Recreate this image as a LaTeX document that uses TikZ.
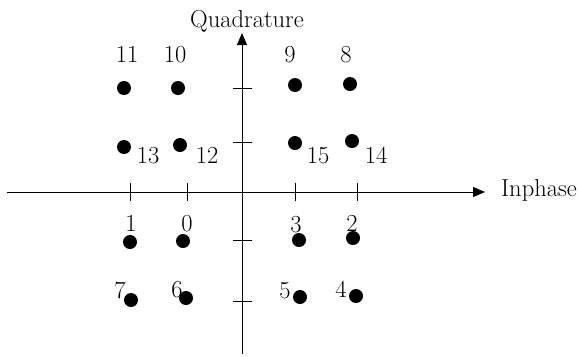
\documentclass[tikz,border=0pt]{standalone}
\usepackage{fontspec}
\usetikzlibrary{arrows.meta}
\begin{document}
\begin{tikzpicture}[x=1bp,y=-1bp,
  dot/.style={circle,fill=black,inner sep=0pt,minimum size=14bp},
  lab/.style={inner sep=0pt,anchor=base,font=\fontsize{24.5bp}{28bp}\selectfont},
  axis/.style={line width=0.9bp,-{Triangle[length=12bp,width=10bp]}},
  tick/.style={line width=0.8bp}]
\useasboundingbox (0,0) rectangle (578,356);
% axes
\coordinate (xs) at (7,192);
\coordinate (xe) at (485,192);
\coordinate (ys) at (242,354);
\coordinate (ye) at (242,33);
\draw[axis] (xs) -- (xe);
\draw[axis] (ys) -- (ye);
\node[lab,anchor=base west] (inph) at (501,196) {Inphase};
\node[lab] (quad) at (247,27) {Quadrature};
% ticks on horizontal axis
\foreach \x in {130,187,295,357} {
  \coordinate (ht\x a) at (\x,183);
  \coordinate (ht\x b) at (\x,201);
  \draw[tick] (ht\x a) -- (ht\x b);
}
% ticks on vertical axis
\foreach \y in {88,142,240,301} {
  \coordinate (vt\y a) at (233,\y);
  \coordinate (vt\y b) at (252,\y);
  \draw[tick] (vt\y a) -- (vt\y b);
}
% points
\node[dot] (p11) at (124,88) {};
\node[dot] (p10) at (178,88) {};
\node[dot] (p9) at (295,85) {};
\node[dot] (p8) at (350,84) {};
\node[dot] (p13) at (124,147) {};
\node[dot] (p12) at (180,145) {};
\node[dot] (p15) at (295,143) {};
\node[dot] (p14) at (352,141) {};
\node[dot] (p1) at (130,242) {};
\node[dot] (p0) at (183,241) {};
\node[dot] (p3) at (299,240) {};
\node[dot] (p2) at (353,238) {};
\node[dot] (p7) at (131,300) {};
\node[dot] (p6) at (186,298) {};
\node[dot] (p5) at (300,297) {};
\node[dot] (p4) at (356,296) {};
% labels
\node[lab] (l11) at (127,62) {11};
\node[lab] (l10) at (175,62) {10};
\node[lab] (l9) at (290,62) {9};
\node[lab] (l8) at (346,62) {8};
\node[lab] (l13) at (148,163) {13};
\node[lab] (l12) at (207,163) {12};
\node[lab] (l15) at (318,163) {15};
\node[lab] (l14) at (376,163) {14};
\node[lab] (l1) at (131,231) {1};
\node[lab] (l0) at (187,231) {0};
\node[lab] (l3) at (296,232) {3};
\node[lab] (l2) at (352,231) {2};
\node[lab] (l7) at (120,298) {7};
\node[lab] (l6) at (177,297) {6};
\node[lab] (l5) at (285,298) {5};
\node[lab] (l4) at (341,297) {4};
\end{tikzpicture}
\end{document}
